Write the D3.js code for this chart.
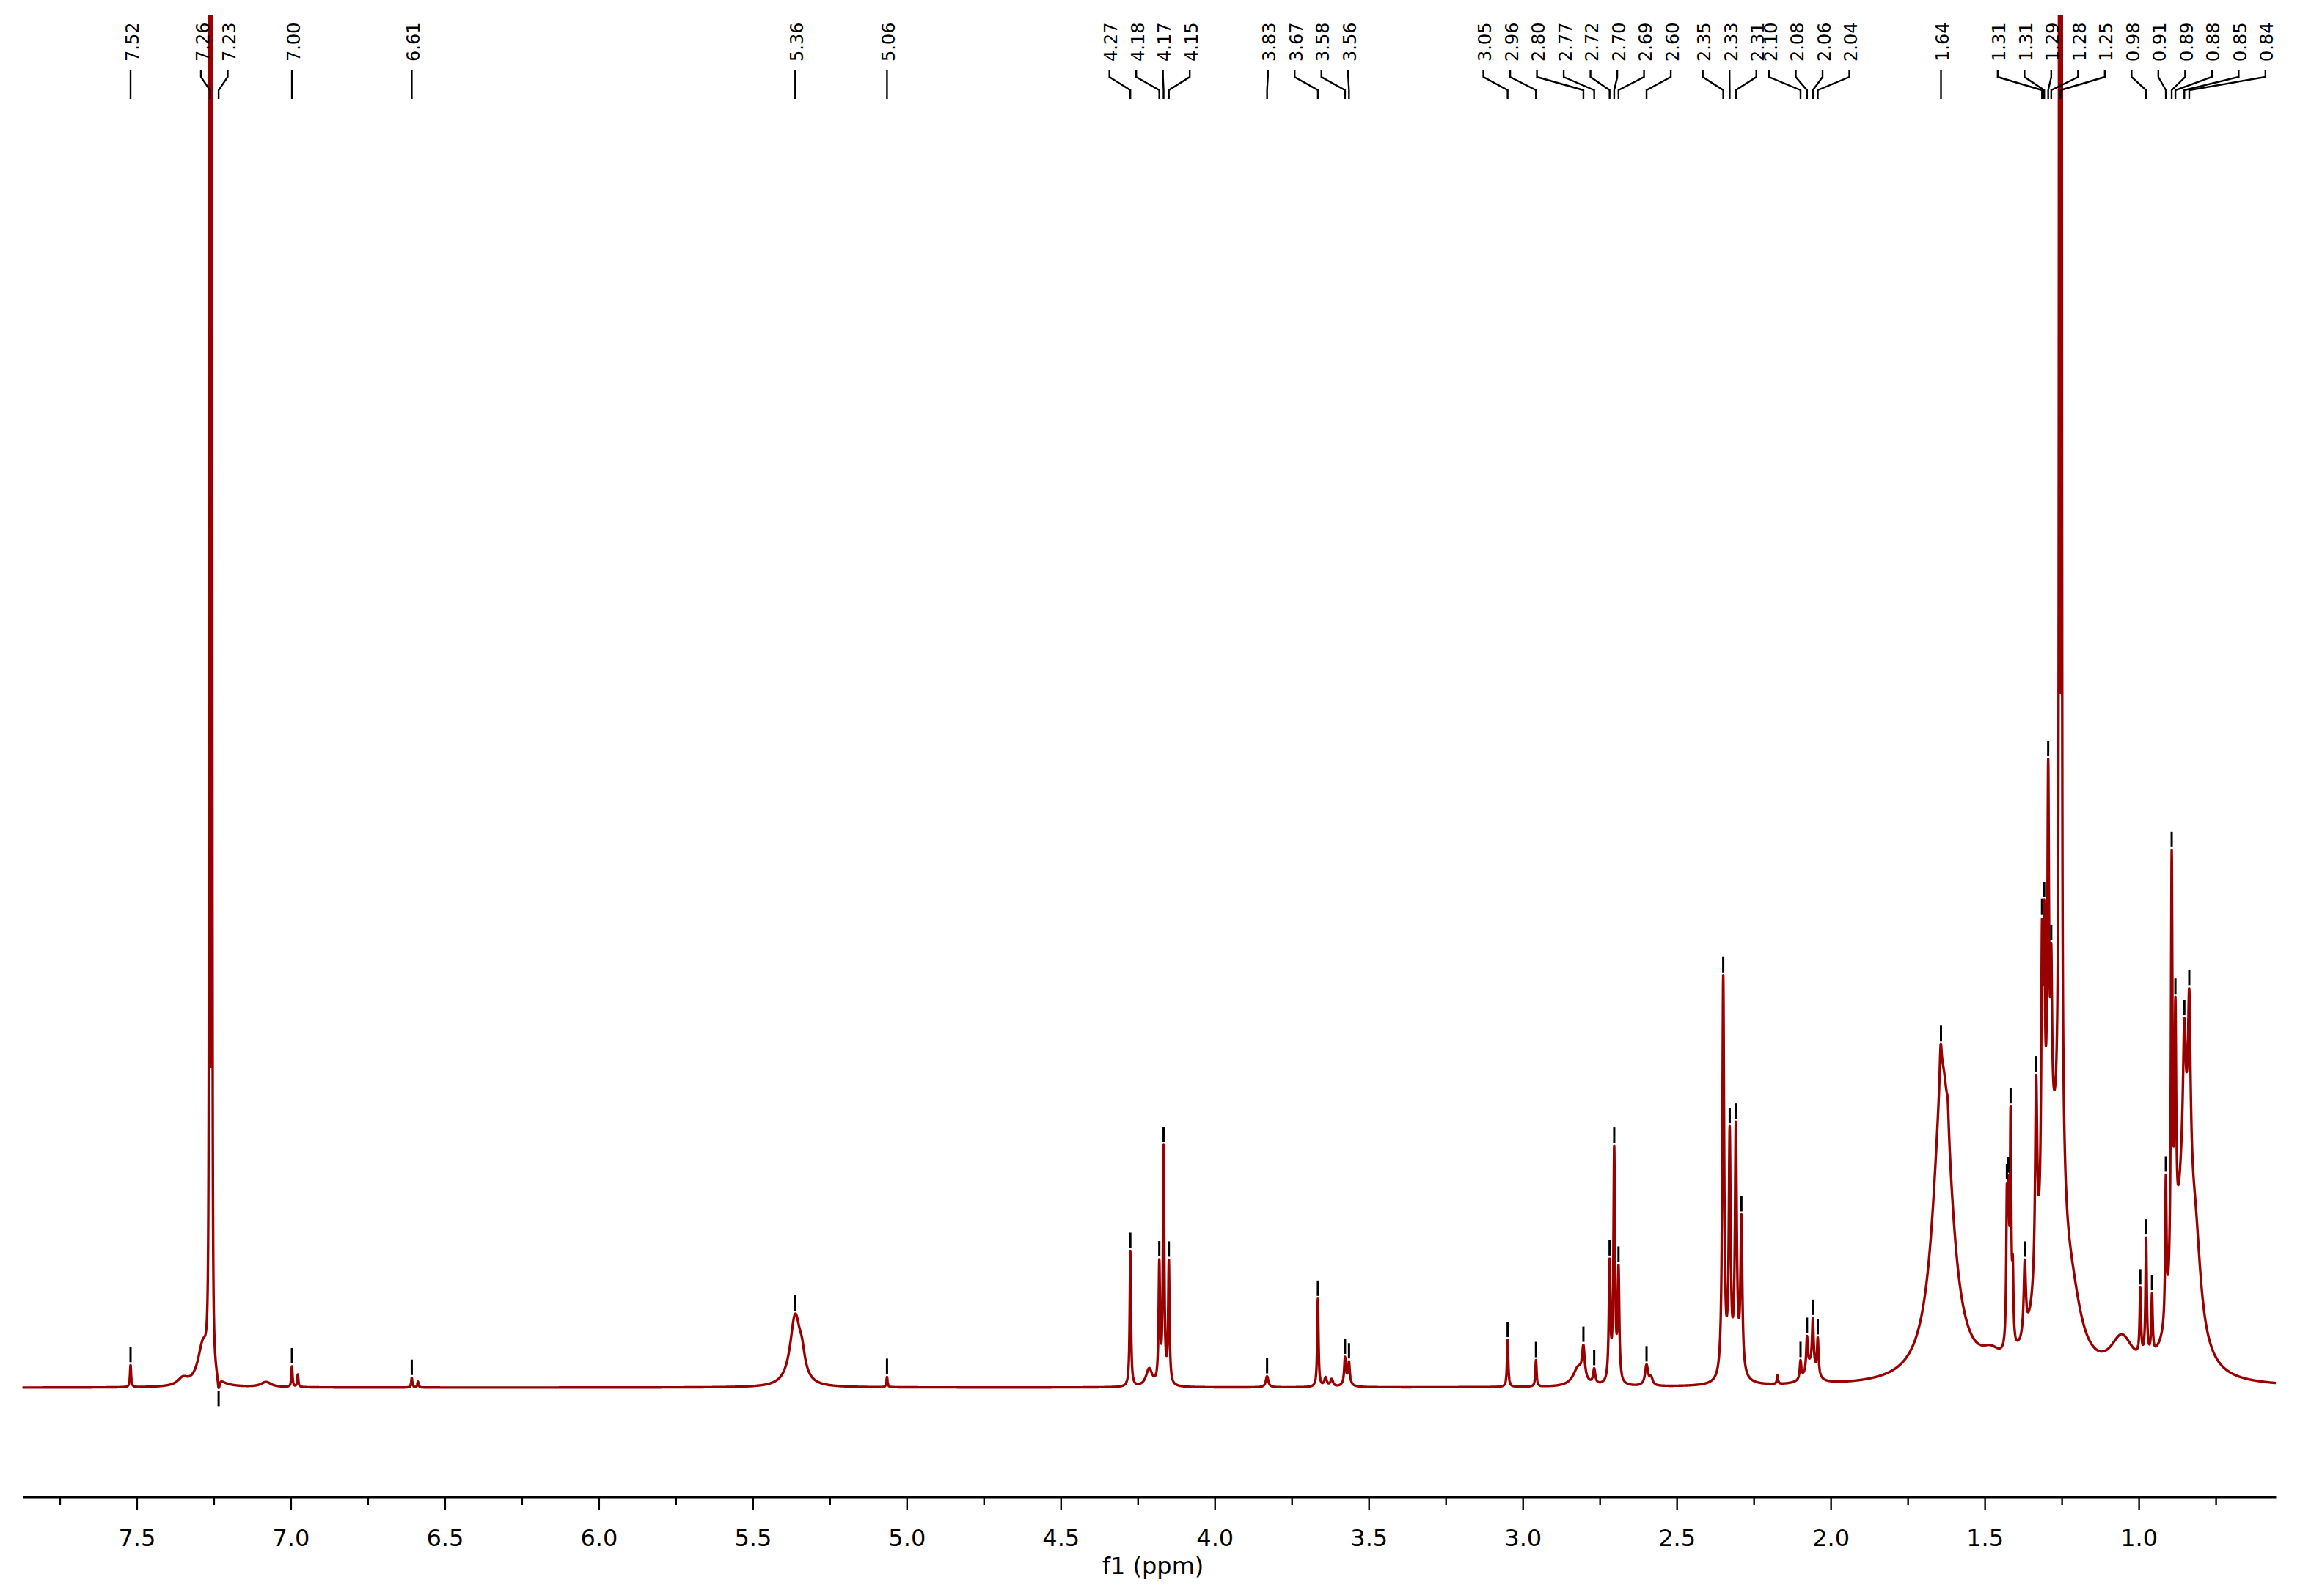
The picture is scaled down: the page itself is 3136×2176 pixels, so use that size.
<!DOCTYPE html>
<html><head><meta charset="utf-8">
<script src="https://cdn.jsdelivr.net/npm/d3@7"></script>
<style>html,body{margin:0;padding:0;background:#fff}svg{display:block}</style>
</head><body>
<svg id="chart" width="3136" height="2176"></svg>
<script>
// ---------- DATA ----------
// Resonance lines: chemical shift (ppm), height (a.u.), half-width (ppm)
const peakPpm = [7.520,7.350,7.285,7.2635,7.2560,7.234,7.080,6.996,6.977,6.607,6.587,
  5.362,5.340,5.064,
  4.274,4.213,4.180,4.166,4.149,
  3.830,3.665,3.640,3.620,3.577,3.564,3.570,
  3.049,2.957,2.820,2.803,2.768,2.718,2.703,2.689,2.598,2.583,
  2.349,2.328,2.308,2.290,2.305,2.173,
  2.098,2.077,2.058,2.042,2.065,
  1.636,1.643,1.620,1.480,
  1.428,1.423,1.416,1.409,1.370,1.333,
  1.314,1.307,1.294,1.284,1.290,1.2579,1.2507,1.255,1.220,1.055,
  0.995,0.976,0.957,0.912,0.893,0.881,0.852,0.836,0.850,0.815];
const peakHeight = [30,10,55,2600,2600,-18,7,28,17,13,8,
  95,25,14,
  185,24,160,320,165,
  15,120,12,10,34,27,8,
  64,36,25,42,20,160,315,150,28,10,
  545,320,320,205,20,12,
  25,45,65,50,25,
  420,55,30,20,
  185,170,300,90,100,270,
  340,310,480,200,280,2600,2600,300,80,50,
  90,160,80,193,585,320,160,232,290,90];
const peakWidth = [0.0022,0.02,0.02,0.0011,0.0011,0.004,0.02,0.0022,0.0022,0.0022,0.0022,
  0.020,0.012,0.0022,
  0.0024,0.012,0.0026,0.0026,0.0026,
  0.005,0.0024,0.005,0.005,0.003,0.003,0.012,
  0.0024,0.0024,0.02,0.005,0.004,0.003,0.003,0.003,0.006,0.006,
  0.0035,0.0035,0.0035,0.0035,0.02,0.002,
  0.003,0.003,0.003,0.003,0.02,
  0.037,0.004,0.004,0.04,
  0.0025,0.0025,0.0025,0.0025,0.004,0.004,
  0.003,0.003,0.003,0.003,0.035,0.0011,0.0011,0.012,0.04,0.045,
  0.0025,0.0025,0.0025,0.0025,0.003,0.003,0.005,0.005,0.033,0.02];

// Peak-picking labels (text, shift, multiplet group)
const labelText = ["7.52","7.26","7.23","7.00","6.61","5.36","5.06",
  "4.27","4.18","4.17","4.15","3.83","3.67","3.58","3.56",
  "3.05","2.96","2.80","2.77","2.72","2.70","2.69","2.60",
  "2.35","2.33","2.31","2.10","2.08","2.06","2.04","1.64",
  "1.31","1.31","1.29","1.28","1.25","0.98","0.91","0.89","0.88","0.85","0.84"];
const labelPpm = [7.520,7.262,7.234,6.996,6.607,5.362,5.064,
  4.274,4.180,4.166,4.149,3.830,3.665,3.577,3.564,
  3.049,2.957,2.803,2.768,2.718,2.703,2.689,2.598,
  2.349,2.328,2.308,2.098,2.077,2.058,2.042,1.642,
  1.314,1.307,1.294,1.284,1.254,0.976,0.912,0.893,0.881,0.852,0.836];
const labelGroup = [0,1,1,2,3,4,5,6,6,6,6,7,7,7,7,8,8,8,8,8,8,8,8,
  9,9,9,10,10,10,10,11,12,12,12,12,12,13,13,13,13,13,13];
// Additional picked peaks (markers without labels)
const extraMarkerPpm = [2.290,1.428,1.423,1.416,1.370,1.333,0.995,0.957];

const majorTicks = [7.5,7.0,6.5,6.0,5.5,5.0,4.5,4.0,3.5,3.0,2.5,2.0,1.5,1.0];
const minorTicks = [7.75,7.25,6.75,6.25,5.75,5.25,4.75,4.25,3.75,3.25,2.75,2.25,1.75,1.25,0.75];
const axisTitle = "f1 (ppm)";

// ---------- RENDER ----------
const svg = d3.select("#chart");
const FONT = "DejaVu Sans, Verdana, sans-serif";
const RED = "#990000";
const x = d3.scaleLinear().domain([7.871, 0.555]).range([30.6, 3103]);
const y = d3.scaleLinear().domain([0, 1871]).range([1892, 21]);

function intensity(p) {
  let s = 0;
  for (let i = 0; i < peakPpm.length; i++) {
    const d = (p - peakPpm[i]) / peakWidth[i];
    s += peakHeight[i] / (1 + d * d);
  }
  return s;
}
const [dmax, dmin] = x.domain();
const grid = d3.range(dmin, dmax, 0.0005);
const spec = grid.map(p => [p, intensity(p)]);

svg.append("defs").append("clipPath").attr("id", "clip")
  .append("rect").attr("x", 0).attr("y", 21).attr("width", 3136).attr("height", 2176 - 21);

svg.append("path")
  .datum(spec)
  .attr("clip-path", "url(#clip)")
  .attr("fill", "none")
  .attr("stroke", RED)
  .attr("stroke-width", 3.4)
  .attr("stroke-linejoin", "round")
  .attr("d", d3.line().x(d => x(d[0])).y(d => y(d[1])));

// peak markers
function localExtreme(p) {
  const pts = d3.range(p - 0.003, p + 0.003, 0.0002).map(intensity);
  const mx = d3.max(pts), mn = d3.min(pts);
  return intensity(p) < 0 ? mn : mx;
}
const markers = labelPpm.concat(extraMarkerPpm);
markers.forEach(p => {
  const v = localExtreme(p);
  const yy = y(v);
  if (v >= 0) {
    if (yy - 25 < 21) return;
    svg.append("rect").attr("x", x(p) - 1.5).attr("y", yy - 25).attr("width", 3).attr("height", 21).attr("fill", "#000");
  } else {
    svg.append("rect").attr("x", x(p) - 1.5).attr("y", yy + 4).attr("width", 3).attr("height", 21).attr("fill", "#000");
  }
});

// label layout: each multiplet group centred on its extremes, fixed spacing
const S = 36.5;
const labelX = new Array(labelText.length);
let prevEnd = -Infinity;
d3.groups(d3.range(labelText.length), i => labelGroup[i]).forEach(([g, idx]) => {
  const xs = idx.map(i => x(labelPpm[i]));
  const mid = (d3.min(xs) + d3.max(xs)) / 2;
  let start = mid - (idx.length - 1) * S / 2;
  if (start < prevEnd) start = prevEnd + S;
  idx.forEach((i, k) => labelX[i] = start + k * S);
  prevEnd = start + (idx.length - 1) * S;
});

const lab = svg.append("g");
labelText.forEach((t, i) => {
  const lx = labelX[i], px = x(labelPpm[i]);
  lab.append("path")
    .attr("d", `M${lx},95 L${lx},105 L${px},123 L${px},135`)
    .attr("fill", "none").attr("stroke", "#000").attr("stroke-width", 2.4);
  lab.append("text")
    .attr("transform", `translate(${lx + 2},84) rotate(-90)`)
    .attr("dy", "0.36em")
    .attr("text-anchor", "start")
    .style("font-family", FONT).style("font-size", "24px").attr("fill", "#000")
    .text(t);
});

// axis
const axisY = 2041;
const gMinor = svg.append("g").attr("transform", `translate(0,${axisY})`)
  .call(d3.axisBottom(x).tickValues(minorTicks).tickSize(11).tickSizeOuter(0).tickFormat(""));
gMinor.select(".domain").remove();
gMinor.selectAll(".tick line").attr("stroke", "#000").attr("stroke-width", 2.4);

const gMajor = svg.append("g").attr("transform", `translate(0,${axisY})`)
  .call(d3.axisBottom(x).tickValues(majorTicks).tickSize(18).tickSizeOuter(0).tickPadding(26).tickFormat(d3.format(".1f")));
gMajor.select(".domain").attr("stroke", "#000").attr("stroke-width", 4);
gMajor.selectAll(".tick line").attr("stroke", "#000").attr("stroke-width", 2.4);
gMajor.selectAll(".tick text").style("font-family", FONT).style("font-size", "32px").attr("fill", "#000");

svg.append("text")
  .attr("x", 1572).attr("y", 2146)
  .attr("text-anchor", "middle")
  .style("font-family", FONT).style("font-size", "32px").attr("fill", "#000")
  .text(axisTitle);
</script>
</body></html>
